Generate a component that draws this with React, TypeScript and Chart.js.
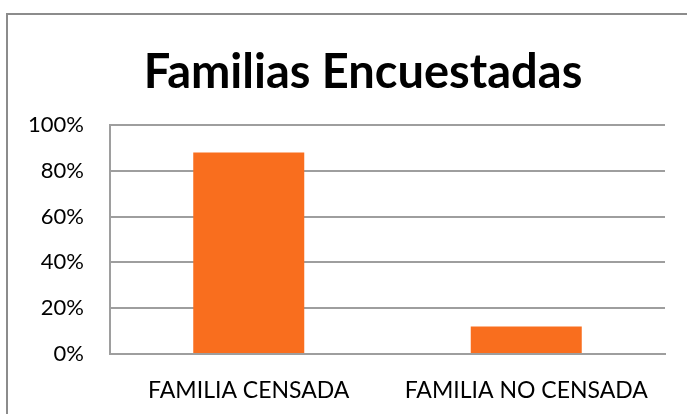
import React, { useEffect, useRef } from "react";
import { Chart, registerables } from "chart.js";

Chart.register(...registerables);

const categories = ["FAMILIA CENSADA", "FAMILIA NO CENSADA"];
const percentValues = [88, 12];
const chartTitle = "Familias Encuestadas";

const FONT = "Lato, 'Open Sans', sans-serif";
const CANVAS_W = 725;
const CANVAS_H = 414;

const framePlugin = {
  id: "framePlugin",
  beforeDraw(chart: any) {
    const ctx = chart.ctx;
    ctx.save();
    ctx.fillStyle = "#ffffff";
    ctx.fillRect(0, 0, chart.width, chart.height);
    ctx.strokeStyle = "#8c8c8c";
    ctx.lineWidth = 2;
    ctx.strokeRect(7, 14, chart.width + 50, chart.height + 50);
    ctx.restore();
  },
  afterDraw(chart: any) {
    const ctx = chart.ctx;
    ctx.save();
    ctx.fillStyle = "#000000";
    ctx.font = `bold 47px ${FONT}`;
    ctx.textAlign = "center";
    ctx.textBaseline = "alphabetic";
    ctx.fillText(chartTitle, 363, 88);
    ctx.restore();
  },
};

export default function App() {
  const ref = useRef<HTMLCanvasElement | null>(null);
  useEffect(() => {
    document.body.style.margin = "0";
    const canvas = ref.current!;
    const chart = new Chart(canvas, {
      type: "bar",
      data: {
        labels: categories,
        datasets: [
          {
            data: percentValues,
            backgroundColor: "#F96E1E",
            borderWidth: 0,
            barPercentage: 1,
            categoryPercentage: 0.4,
          },
        ],
      },
      options: {
        responsive: false,
        animation: false,
        devicePixelRatio: 1,
        layout: { padding: { top: 125, left: 0, right: CANVAS_W - 665, bottom: 0 } },
        plugins: {
          legend: { display: false },
          title: { display: false },
          tooltip: { enabled: false },
        },
        scales: {
          x: {
            afterFit(scale: any) {
              scale.height = CANVAS_H - 354;
            },
            grid: { display: false, drawTicks: false },
            border: { display: true, color: "#9e9e9e", width: 2 },
            ticks: {
              color: "#000000",
              font: { family: FONT, size: 23 },
              padding: 23,
              maxRotation: 0,
              autoSkip: false,
            },
          },
          y: {
            min: 0,
            max: 100,
            afterFit(scale: any) {
              scale.width = 110;
            },
            grid: { color: "#9e9e9e", lineWidth: 2, drawTicks: false },
            border: { display: true, color: "#9e9e9e", width: 2 },
            ticks: {
              stepSize: 20,
              color: "#000000",
              font: { family: FONT, size: 22 },
              padding: 26,
              callback: (v: any) => `${v}%`,
            },
          },
        },
      },
      plugins: [framePlugin],
    });
    return () => chart.destroy();
  }, []);
  return (
    <div style={{ width: 687, height: 414, overflow: "hidden", position: "relative" }}>
      <canvas ref={ref} width={CANVAS_W} height={CANVAS_H} style={{ display: "block" }} />
    </div>
  );
}
